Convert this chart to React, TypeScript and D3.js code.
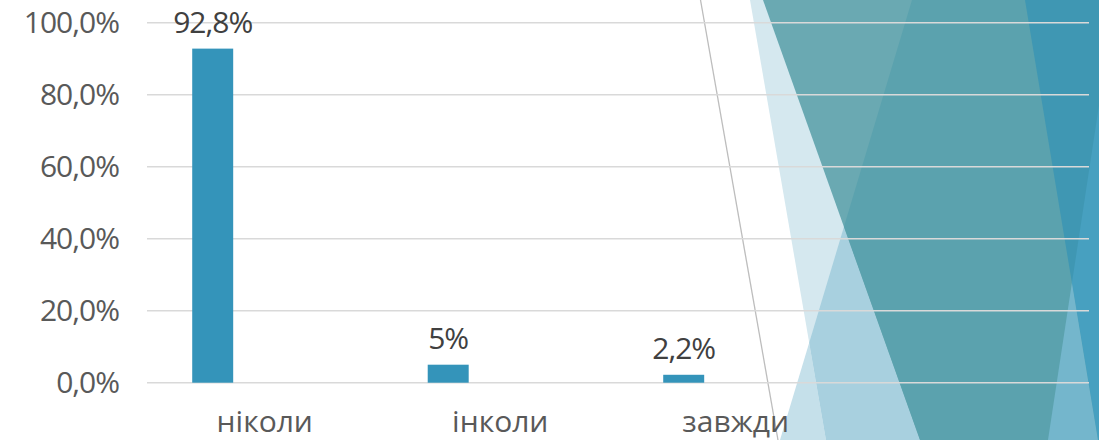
import React from "react";
import * as d3 from "d3";

const categories = ["ніколи", "інколи", "завжди", ""];
const values = [92.8, 5, 2.2];
const valueLabels = ["92,8%", "5%", "2,2%"];
const yTicks = [0, 20, 40, 60, 80, 100];

const W = 1099;
const H = 440;
const FONT = "'Open Sans', 'Noto Sans', sans-serif";

// decorative background edges: x at y=0 and x at y=H
type Ln = [number, number];
const L2: Ln = [750, 826];
const L3: Ln = [763, 920];
const L4: Ln = [912, 780];
const L5: Ln = [1025, 1098];
const L6: Ln = [1115, 1048];

function cross(a: Ln, b: Ln): [number, number] {
  const sa = (a[1] - a[0]) / H;
  const sb = (b[1] - b[0]) / H;
  const y = (b[0] - a[0]) / (sa - sb);
  return [a[0] + sa * y, y];
}

function yAtX(a: Ln, x: number): number {
  const s = (a[1] - a[0]) / H;
  return (x - a[0]) / s;
}

export default function App() {
  const x = d3.scaleBand<string>().domain(categories).range([147, 1089]).padding(0);
  const y = d3.scaleLinear().domain([0, 100]).range([382.7, 22.7]);
  const bw = x.bandwidth();
  const fmt = (v: number) => d3.format(".1f")(v).replace(".", ",") + "%";

  const p34 = cross(L3, L4);
  const p24 = cross(L2, L4);
  const p56 = cross(L5, L6);
  const r = 1100;
  const y6 = yAtX(L6, r);

  const polys: { pts: [number, number][]; fill: string }[] = [
    { pts: [[L2[0], 0], [r, 0], [r, H], [L2[1], H]], fill: "#d5e8ef" },
    { pts: [p24, [L4[1], H], [L2[1], H]], fill: "#c5e0ea" },
    { pts: [p34, p24, [L2[1], H], [L3[1], H]], fill: "#a8d0df" },
    { pts: [[L3[0], 0], [r, 0], [r, H], [L3[1], H]], fill: "#6aa9b2" },
    { pts: [[L4[0], 0], [r, 0], [r, H], [L3[1], H], p34], fill: "#5ba2ae" },
    { pts: [[L5[0], 0], [r, 0], [r, H], [L5[1], H]], fill: "#3f97b3" },
    { pts: [[r, y6], p56, [L5[1], H], [r, H]], fill: "#47a0c0" },
    { pts: [p56, [L6[1], H], [L5[1], H]], fill: "#74b6cc" },
  ];

  return (
    <svg
      width={W}
      height={H}
      style={{ position: "fixed", left: 0, top: 0, background: "#ffffff" }}
    >
      <rect x={0} y={0} width={W} height={H} fill="#ffffff" />
      {polys.map((p, i) => (
        <polygon key={i} points={p.pts.map((q) => q.join(",")).join(" ")} fill={p.fill} />
      ))}
      <line x1={700.5} y1={0} x2={778} y2={H} stroke="#bdbdbd" strokeWidth={1.3} />

      {yTicks.map((t) => (
        <g key={t}>
          <line x1={147} x2={1089} y1={y(t)} y2={y(t)} stroke="#d9d9d9" strokeWidth={1.5} />
          <text
            x={119}
            y={y(t)}
            dy="0.33em"
            textAnchor="end"
            fontFamily={FONT}
            fontSize={30}
            letterSpacing={-1}
            fill="#595959"
          >
            {fmt(t)}
          </text>
        </g>
      ))}

      {values.map((v, i) => {
        const c = categories[i];
        const bx = (x(c) as number) + bw * 0.192;
        const w = bw * 0.174;
        return (
          <g key={c}>
            <rect x={bx} y={y(v)} width={w} height={y(0) - y(v)} fill="#3494ba" />
            <text
              x={bx + w / 2}
              y={y(v) - 16}
              textAnchor="middle"
              fontFamily={FONT}
              fontSize={30}
              letterSpacing={-1}
              fill="#404040"
            >
              {valueLabels[i]}
            </text>
          </g>
        );
      })}

      {categories.map((c) =>
        c ? (
          <text
            key={c}
            x={(x(c) as number) + bw / 2}
            y={432}
            textAnchor="middle"
            fontFamily={FONT}
            fontSize={30}
            fill="#595959"
          >
            {c}
          </text>
        ) : null
      )}
    </svg>
  );
}
